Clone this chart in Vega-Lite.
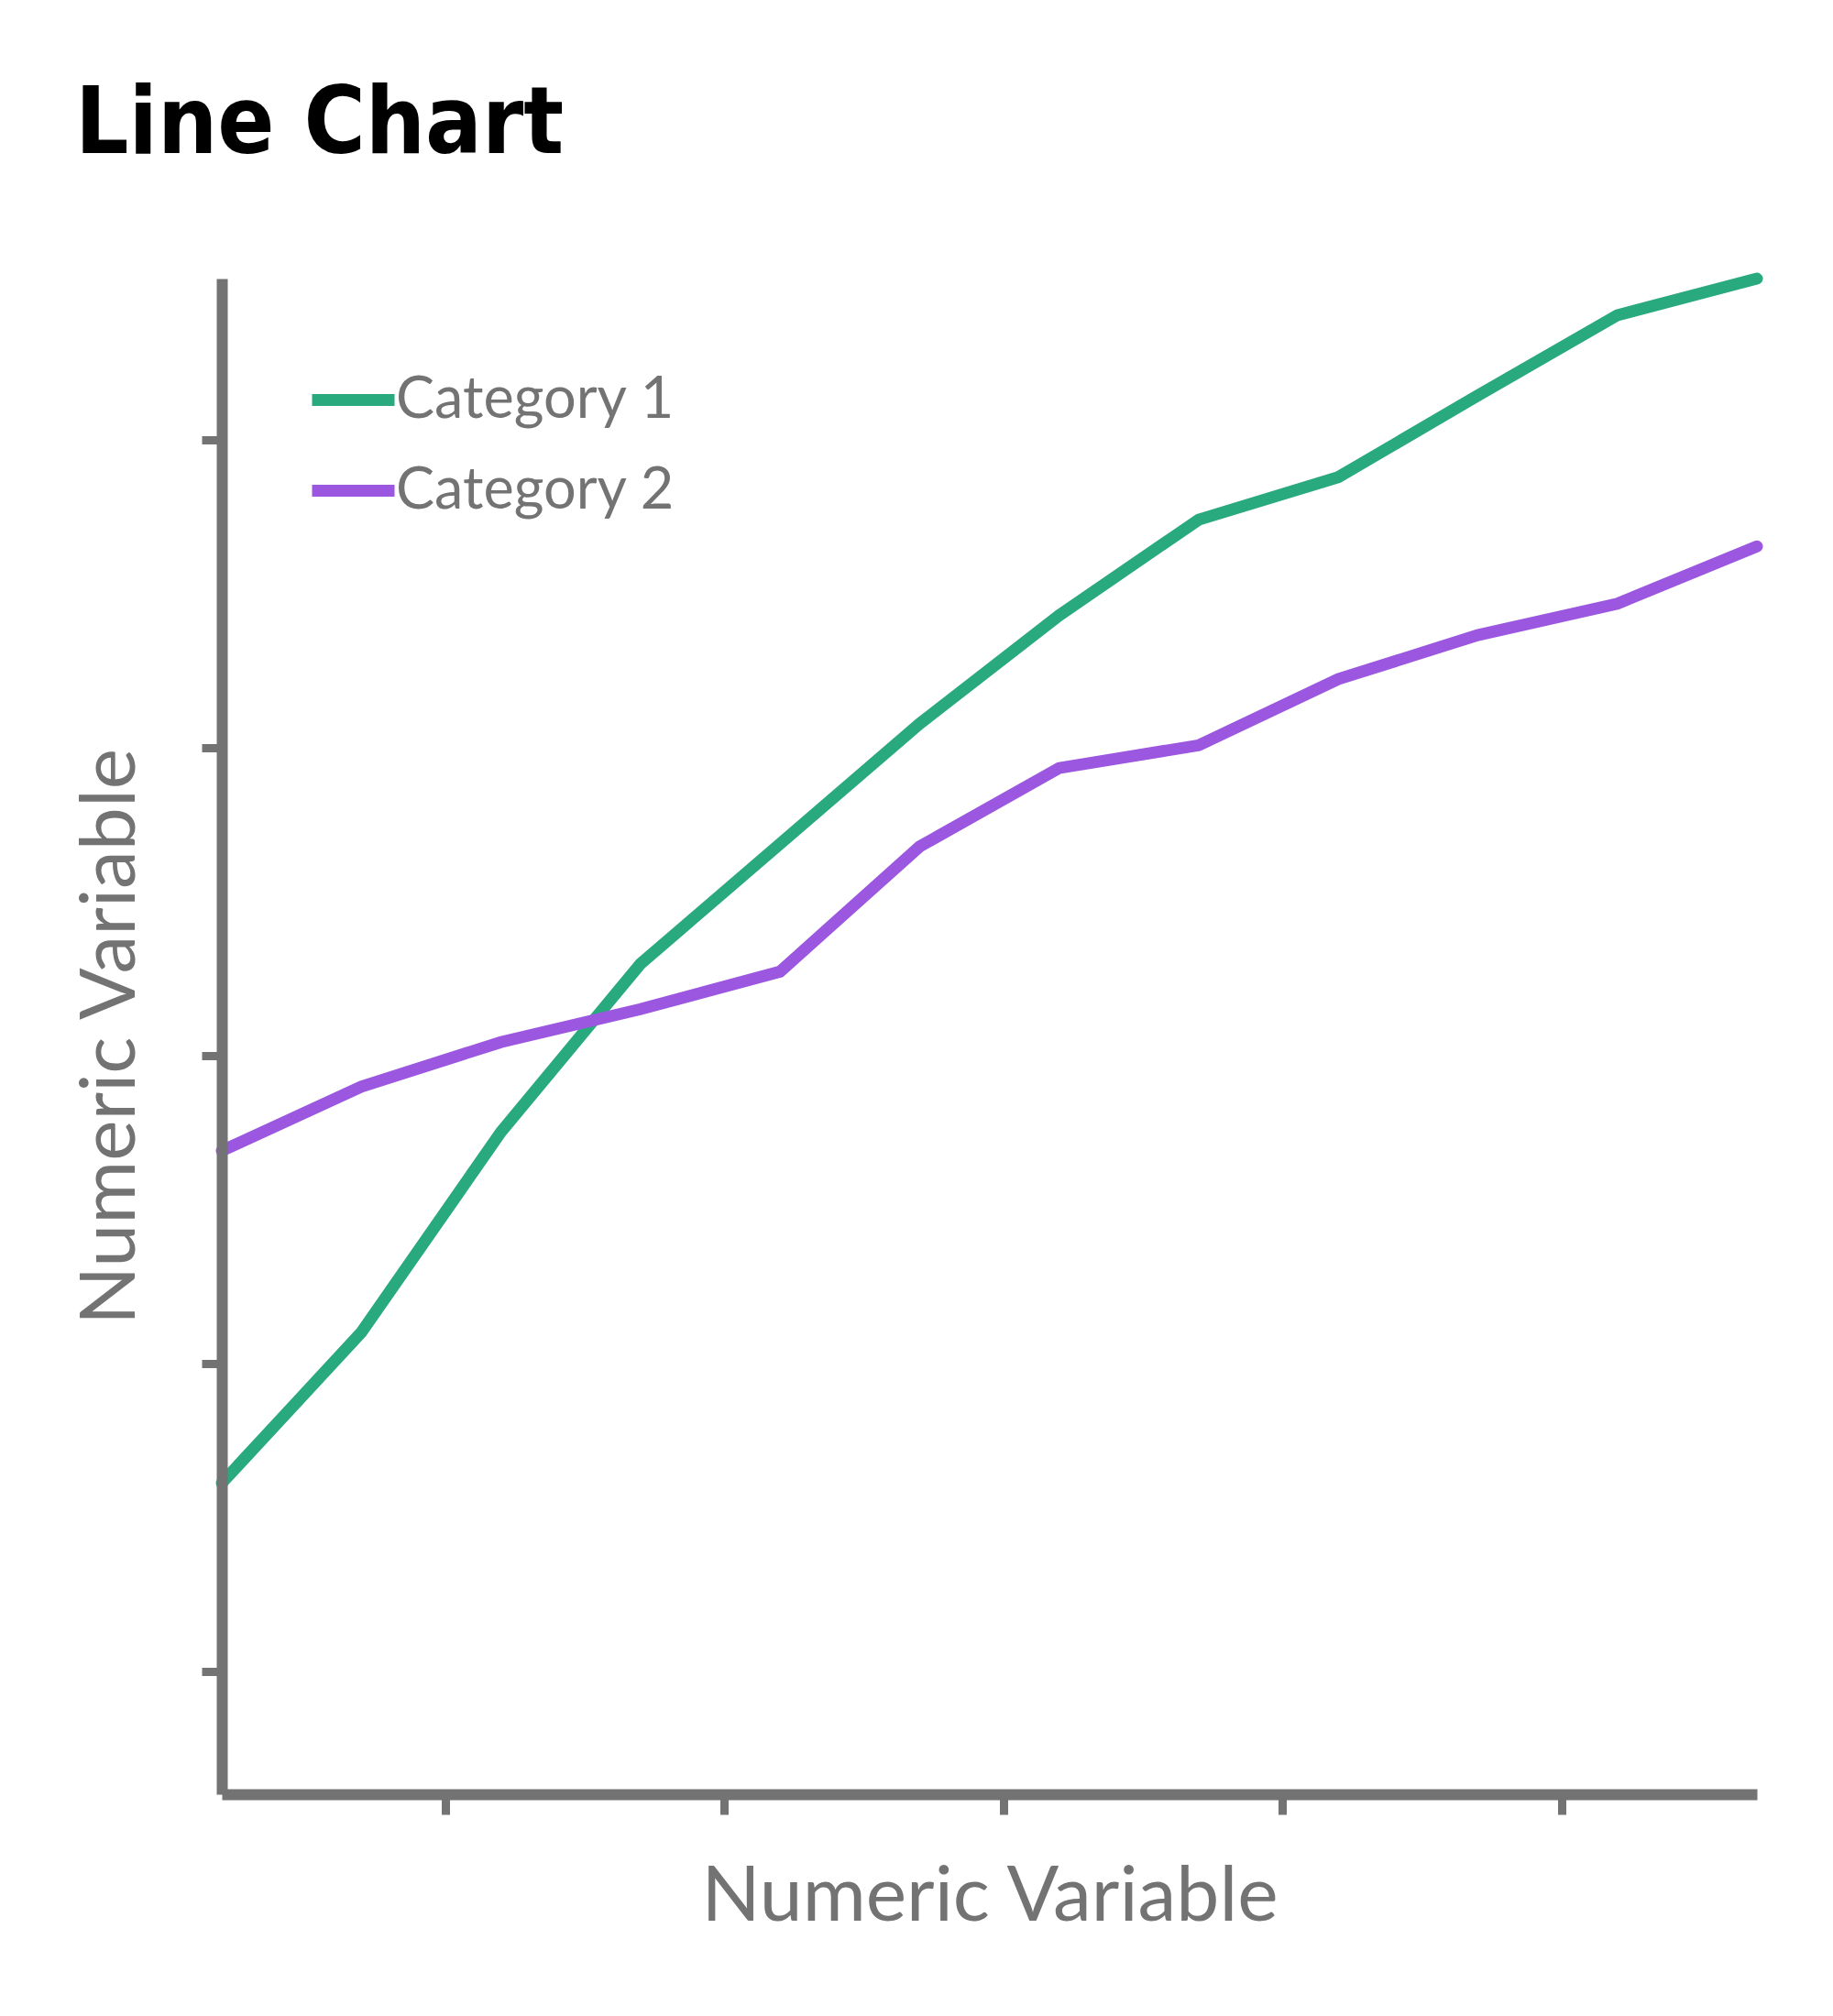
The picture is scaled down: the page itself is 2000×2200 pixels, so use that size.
{
  "$schema": "https://vega.github.io/schema/vega-lite/v6.json",
  "width": 1675,
  "height": 1654,
  "autosize": {"type": "none"},
  "padding": {"left": 242, "top": 304, "right": 83, "bottom": 242},
  "background": "white",
  "title": {
    "text": "Line Chart",
    "anchor": "start",
    "frame": "group",
    "font": "DejaVu Sans Condensed, sans-serif",
    "fontSize": 102,
    "fontWeight": "bold",
    "color": "#000000",
    "baseline": "alphabetic",
    "offset": 137,
    "dx": -160,
    "dy": 128
  },
  "data": {
    "values": [
      {"x": 0, "value": 16.11, "category": "Category 1"},
      {"x": 1, "value": 21.0, "category": "Category 1"},
      {"x": 2, "value": 27.51, "category": "Category 1"},
      {"x": 3, "value": 32.97, "category": "Category 1"},
      {"x": 4, "value": 36.87, "category": "Category 1"},
      {"x": 5, "value": 40.77, "category": "Category 1"},
      {"x": 6, "value": 44.29, "category": "Category 1"},
      {"x": 7, "value": 47.4, "category": "Category 1"},
      {"x": 8, "value": 48.78, "category": "Category 1"},
      {"x": 9, "value": 51.43, "category": "Category 1"},
      {"x": 10, "value": 54.04, "category": "Category 1"},
      {"x": 11, "value": 55.23, "category": "Category 1"},
      {"x": 0, "value": 26.9, "category": "Category 2"},
      {"x": 1, "value": 28.98, "category": "Category 2"},
      {"x": 2, "value": 30.43, "category": "Category 2"},
      {"x": 3, "value": 31.5, "category": "Category 2"},
      {"x": 4, "value": 32.72, "category": "Category 2"},
      {"x": 5, "value": 36.78, "category": "Category 2"},
      {"x": 6, "value": 39.33, "category": "Category 2"},
      {"x": 7, "value": 40.07, "category": "Category 2"},
      {"x": 8, "value": 42.22, "category": "Category 2"},
      {"x": 9, "value": 43.65, "category": "Category 2"},
      {"x": 10, "value": 44.67, "category": "Category 2"},
      {"x": 11, "value": 46.53, "category": "Category 2"}
    ]
  },
  "mark": {"type": "line", "strokeWidth": 13, "strokeCap": "round", "strokeJoin": "miter", "clip": false},
  "encoding": {
    "x": {
      "field": "x",
      "type": "quantitative",
      "scale": {"domain": [0, 11], "nice": false, "zero": false},
      "axis": {
        "title": "Numeric Variable",
        "values": [1.6, 3.6, 5.6, 7.6, 9.6],
        "labels": false,
        "grid": false,
        "domainColor": "#737373",
        "domainWidth": 12,
        "domainCap": "butt",
        "tickColor": "#737373",
        "tickWidth": 9,
        "tickSize": 22,
        "titleFont": "Lato",
        "titleFontWeight": "normal",
        "titleFontSize": 84,
        "titleColor": "#737373",
        "titleX": 837.5,
        "titleY": 137,
        "titleAlign": "center",
        "titleBaseline": "alphabetic",
        "zindex": 1
      }
    },
    "y": {
      "field": "value",
      "type": "quantitative",
      "scale": {"domain": [6, 55.23], "nice": false, "zero": false},
      "axis": {
        "title": "Numeric Variable",
        "values": [10, 20, 30, 40, 50],
        "labels": false,
        "grid": false,
        "domainColor": "#737373",
        "domainWidth": 12,
        "domainCap": "butt",
        "tickColor": "#737373",
        "tickWidth": 9,
        "tickSize": 22,
        "titleFont": "Lato",
        "titleFontWeight": "normal",
        "titleFontSize": 84,
        "titleColor": "#737373",
        "titleAngle": 270,
        "titleX": -96,
        "titleY": 827,
        "titleAlign": "center",
        "titleBaseline": "alphabetic",
        "zindex": 1
      }
    },
    "color": {
      "field": "category",
      "type": "nominal",
      "scale": {"domain": ["Category 1", "Category 2"], "range": ["#29A97E", "#9B57E0"]},
      "legend": {
        "orient": "none",
        "legendX": 92,
        "legendY": 81,
        "title": null,
        "padding": 0,
        "symbolType": "stroke",
        "symbolSize": 8100,
        "symbolStrokeWidth": 13,
        "labelFont": "Lato",
        "labelFontWeight": "normal",
        "labelFontSize": 63,
        "labelColor": "#737373",
        "labelOffset": -5,
        "labelLimit": 0,
        "rowPadding": 15
      }
    }
  },
  "config": {"view": {"stroke": null}}
}
